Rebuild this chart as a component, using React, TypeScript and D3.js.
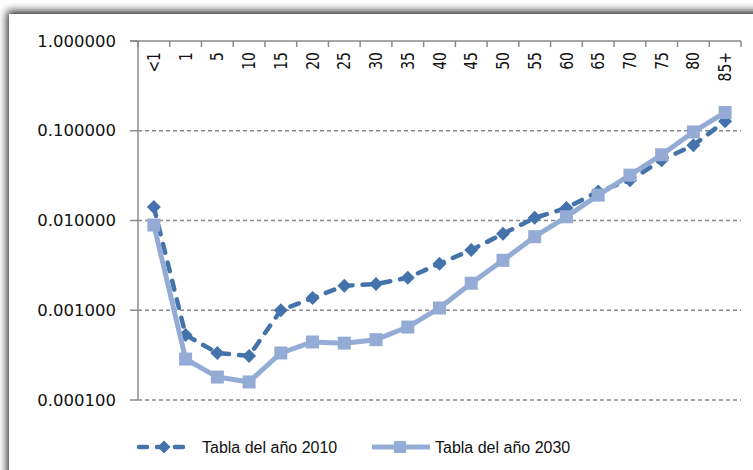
import * as React from 'react';
import * as d3 from 'd3';

const categories = ['<1', '1', '5', '10', '15', '20', '25', '30', '35', '40', '45', '50', '55', '60', '65', '70', '75', '80', '85+'];
const tabla2010 = [0.0141, 0.00053, 0.000334, 0.00031, 0.001, 0.00137, 0.00187, 0.00196, 0.0023, 0.0033, 0.0047, 0.0071, 0.0107, 0.0138, 0.021, 0.028, 0.047, 0.069, 0.128];
const tabla2030 = [0.0089, 0.000286, 0.00018, 0.000159, 0.000334, 0.000443, 0.00043, 0.00047, 0.00065, 0.00106, 0.002, 0.0036, 0.0066, 0.011, 0.0192, 0.032, 0.054, 0.097, 0.16];
const yTicks = [1, 0.1, 0.01, 0.001, 0.0001];
const seriesNames = ['Tabla del año 2010', 'Tabla del año 2030'];

const W = 753;
const H = 470;
const dark = '#4472aa';
const light = '#93abd5';
const grid = '#8a8a8a';

function diamond(cx: number, cy: number, r: number) {
  const p = d3.path();
  p.moveTo(cx, cy - r);
  p.lineTo(cx + r, cy);
  p.lineTo(cx, cy + r);
  p.lineTo(cx - r, cy);
  p.closePath();
  return p.toString();
}

export default function App() {
  const x = d3.scaleBand<string>().domain(categories).range([138, 741]);
  const y = d3.scaleLog().domain([0.0001, 1]).range([400, 41]);
  const cx = (c: string) => (x(c) as number) + x.bandwidth() / 2;
  const fmt = d3.format('.6f');

  const line = d3
    .line<number>()
    .x((_, i) => cx(categories[i]))
    .y((d) => y(d));

  const boundaries = categories.map((c) => x(c) as number).concat([x.range()[1]]);

  return (
    <svg
      width={W}
      height={H}
      style={{ position: 'fixed', left: 0, top: 0 }}
    >
      <defs>
        <filter id="shadow" x="-10%" y="-10%" width="120%" height="120%">
          <feGaussianBlur in="SourceAlpha" stdDeviation="4.5" />
          <feOffset dx="-2" dy="-3" result="b" />
          <feComponentTransfer>
            <feFuncA type="linear" slope="0.85" />
          </feComponentTransfer>
          <feMerge>
            <feMergeNode />
            <feMergeNode in="SourceGraphic" />
          </feMerge>
        </filter>
      </defs>
      <rect width={W} height={H} fill="#fff" />
      <rect x={9} y={14} width={W + 20} height={H + 20} fill="#fff" filter="url(#shadow)" />

      {/* grid + y ticks */}
      <g>
        {yTicks.map((t) => (
          <g key={t}>
            {t < 1 && (
              <line
                x1={138}
                x2={741}
                y1={y(t)}
                y2={y(t)}
                stroke={grid}
                strokeWidth={1.5}
                strokeDasharray="4 3"
              />
            )}
            <line x1={130} x2={138} y1={y(t)} y2={y(t)} stroke={grid} strokeWidth={1.5} />
            <text
              x={116}
              y={y(t)}
              textAnchor="end"
              dominantBaseline="central"
              fontFamily="DejaVu Sans"
              fontSize={16.5}
              fill="#111"
            >
              {fmt(t)}
            </text>
          </g>
        ))}
      </g>

      {/* axes */}
      <line x1={138} x2={138} y1={41} y2={400} stroke={grid} strokeWidth={1.5} />
      <line x1={130} x2={741} y1={41} y2={41} stroke={grid} strokeWidth={1.5} />
      {boundaries.map((b, i) => (
        <line key={i} x1={b} x2={b} y1={41} y2={47} stroke={grid} strokeWidth={1.5} />
      ))}
      {categories.map((c) => (
        <text
          key={c}
          transform={`translate(${cx(c)},52) rotate(-90) scale(1,1.25)`}
          textAnchor="end"
          dominantBaseline="central"
          fontFamily="DejaVu Sans"
          fontSize={14}
          fill="#111"
        >
          {c}
        </text>
      ))}

      {/* series 2010 */}
      <path
        d={line(tabla2010) as string}
        fill="none"
        stroke={dark}
        strokeWidth={4.5}
        strokeDasharray="9 10"
        strokeLinecap="round"
        strokeLinejoin="round"
      />
      {tabla2010.map((v, i) => (
        <path key={i} d={diamond(cx(categories[i]), y(v), 7)} fill={dark} />
      ))}

      {/* series 2030 */}
      <path d={line(tabla2030) as string} fill="none" stroke={light} strokeWidth={5} strokeLinejoin="round" />
      {tabla2030.map((v, i) => (
        <rect key={i} x={cx(categories[i]) - 6.5} y={y(v) - 6.5} width={13} height={13} fill={light} />
      ))}

      {/* legend */}
      <g fontFamily="Liberation Sans" fontSize={16} fill="#111">
        <line x1={139} x2={186} y1={447} y2={447} stroke={dark} strokeWidth={4.5} strokeDasharray="8 10" strokeLinecap="round" />
        <path d={diamond(164, 447, 6.5)} fill={dark} />
        <text x={202} y={447} dominantBaseline="central">{seriesNames[0]}</text>
        <line x1={372} x2={430} y1={447} y2={447} stroke={light} strokeWidth={5} />
        <rect x={394} y={441} width={12} height={12} fill={light} />
        <text x={435} y={447} dominantBaseline="central">{seriesNames[1]}</text>
      </g>
    </svg>
  );
}
